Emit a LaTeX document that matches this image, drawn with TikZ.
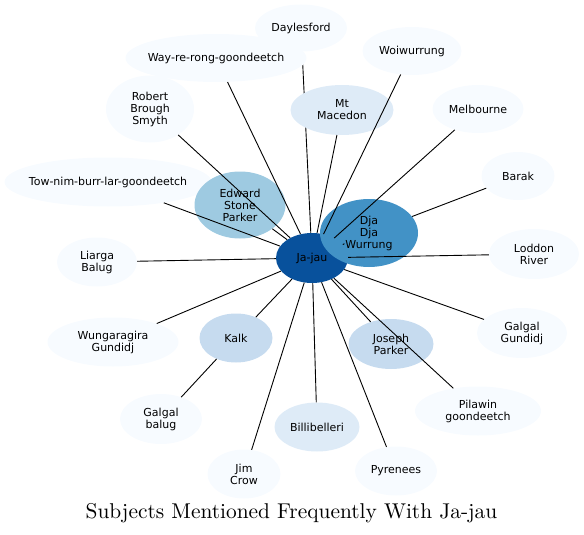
\documentclass[tikz,border=0pt]{standalone}
\usepackage{fontspec}
\newfontfamily\labfont{DejaVu Sans}
\newfontfamily\titlefont{lmroman10-regular}[Extension=.otf]
\usetikzlibrary{shapes.geometric}
\definecolor{cA}{HTML}{F7FBFF}
\definecolor{cB}{HTML}{DEEBF7}
\definecolor{cC}{HTML}{C6DBEF}
\definecolor{cD}{HTML}{9ECAE1}
\definecolor{cE}{HTML}{4292C6}
\definecolor{cF}{HTML}{08519C}
\newcommand\gnode[7]{%
  \node[ell, fill=#6, minimum width=#4pt, minimum height=#5pt] (#1) at (#2,#3) {};
  \node[lbl] (#1-t) at (#1) {#7};}
\begin{document}
\begin{tikzpicture}[x=1pt,y=-1pt,
  ell/.style={ellipse, draw=none, inner sep=0pt},
  lbl/.style={font=\labfont\fontsize{11}{12}\selectfont, align=center, text=black, inner sep=0pt},
  conn/.style={draw=black, line width=0.9pt}]
\useasboundingbox (0,0) rectangle (584,535);
\gnode{day}{301}{28}{92}{47}{cA}{Daylesford}
\gnode{jj}{312}{258}{72}{50}{cF}{Ja-jau}
\draw[conn] (jj) -- (day);
\gnode{way}{216}{58}{181}{48}{cA}{Way-re-rong-goondeetch}
\gnode{woi}{412}{51}{99}{48}{cA}{Woiwurrung}
\gnode{mtm}{342}{110}{103}{50}{cB}{Mt\\Macedon}
\gnode{mel}{478}{109}{91}{48}{cA}{Melbourne}
\gnode{rbs}{150}{109}{88}{67}{cA}{Robert\\Brough\\Smyth}
\gnode{bar}{518}{176}{73}{48}{cA}{Barak}
\gnode{tow}{108}{182}{207}{49}{cA}{Tow-nim-burr-lar-goondeetch}
\gnode{esp}{240}{205}{91}{67}{cD}{Edward\\Stone\\Parker}
\gnode{ddw}{369}{233}{98}{68}{cE}{Dja\\Dja\\Wurrung}
\gnode{lod}{534}{254}{90}{50}{cA}{Loddon\\River}
\gnode{lia}{97}{262}{80}{49}{cA}{Liarga\\Balug}
\gnode{wun}{113}{342}{131}{49}{cA}{Wungaragira\\Gundidj}
\gnode{kal}{236}{338}{73}{49}{cC}{Kalk}
\gnode{jos}{391}{344}{85}{50}{cC}{Joseph\\Parker}
\gnode{ggu}{522}{333}{90}{50}{cA}{Galgal\\Gundidj}
\gnode{gba}{161}{419}{82}{50}{cA}{Galgal\\balug}
\gnode{bil}{317}{427}{85}{49}{cB}{Billibelleri}
\gnode{pil}{478}{411}{126}{49}{cA}{Pilawin\\goondeetch}
\gnode{jim}{244}{474}{73}{49}{cA}{Jim\\Crow}
\gnode{pyr}{396}{471}{82}{49}{cA}{Pyrenees}
\foreach \n in {way,mtm,woi,mel,lod,tow,rbs,esp,lia,wun,kal,jim,bil,pyr,jos,pil,ggu}
  \draw[conn] (jj) -- (\n);
\path (jj.center) -- (ddw.center) coordinate[pos=0.54] (jd1) coordinate[pos=0.57] (jd2);
\draw[conn] (jd1) -- (jd2);
\draw[conn] (ddw) -- (bar);
\draw[conn] (kal) -- (gba);
\node (title) at (291.5,513) {\titlefont\fontsize{21.4}{26}\selectfont Subjects Mentioned Frequently With Ja-jau};
\end{tikzpicture}
\end{document}
